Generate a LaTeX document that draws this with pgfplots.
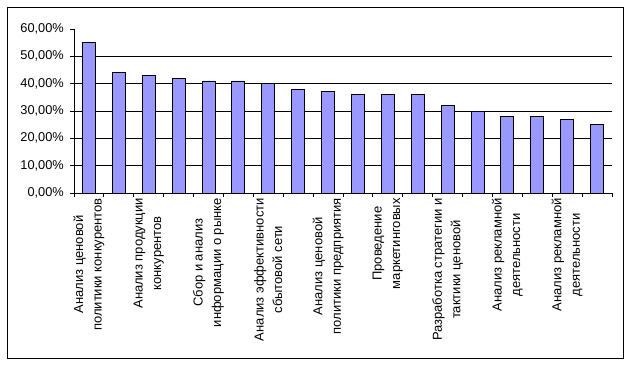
\documentclass[border=0pt]{standalone}
\usepackage{pgfplots}
\pgfplotsset{compat=1.18}
\usepackage{fontspec}
\setmainfont{Liberation Sans}
\definecolor{barblue}{HTML}{9999FF}
\begin{document}
\begin{tikzpicture}[x=1bp,y=1bp]
\useasboundingbox (-74,-171) rectangle (556,193);
\fill[white] (-74,-171) rectangle (556,193);
\draw[line width=0.8bp] (-67,-165) rectangle (549,186);
\begin{axis}[
  at={(0,0)}, anchor=south west,
  scale only axis, width=538bp, height=164bp,
  xmin=-0.5, xmax=17.5, ymin=0, ymax=60,
  axis x line*=bottom, axis y line*=left,
  axis line style={-, line width=0.8bp, black},
  tick align=outside, major tick length=4bp,
  tick style={black, line width=0.8bp},
  ytick={0,10,...,60},
  yticklabels={{0,00\%},{10,00\%},{20,00\%},{30,00\%},{40,00\%},{50,00\%},{60,00\%}},
  yticklabel style={font=\fontsize{12.8bp}{14bp}\selectfont, inner sep=1bp, xshift=-5bp},
  extra y ticks={10,20,30,40,50},
  extra y tick labels={},
  extra y tick style={grid=major, major grid style={black, line width=0.8bp}, major tick length=0pt},
  xtick={-0.5,0.5,...,17.5},
  x tick label as interval,
  xticklabels={{Анализ ценовой\\политики конкурентов},{},{Анализ продукции\\конкурентов},{},{Сбор и анализ\\информации о рынке},{},{Анализ эффективности\\сбытовой сети},{},{Анализ ценовой\\политики предприятия},{},{Проведение\\маркетинговых},{},{Разработка стратегии и\\тактики ценовой},{},{Анализ рекламной\\деятельности},{},{Анализ рекламной\\деятельности},{}},
  xticklabel style={rotate=90, anchor=east, align=center, font=\fontsize{13bp}{18.5bp}\selectfont, inner sep=0bp, xshift=-1bp},
  clip=false,
]
\addplot[ybar, bar width=13bp, fill=barblue, draw=black, line width=0.8bp] coordinates {
(0,55) (1,44) (2,43) (3,42) (4,41) (5,41) (6,40) (7,38) (8,37)
(9,36) (10,36) (11,36) (12,32) (13,30) (14,28) (15,28) (16,27) (17,25)
};
\end{axis}
\end{tikzpicture}
\end{document}
